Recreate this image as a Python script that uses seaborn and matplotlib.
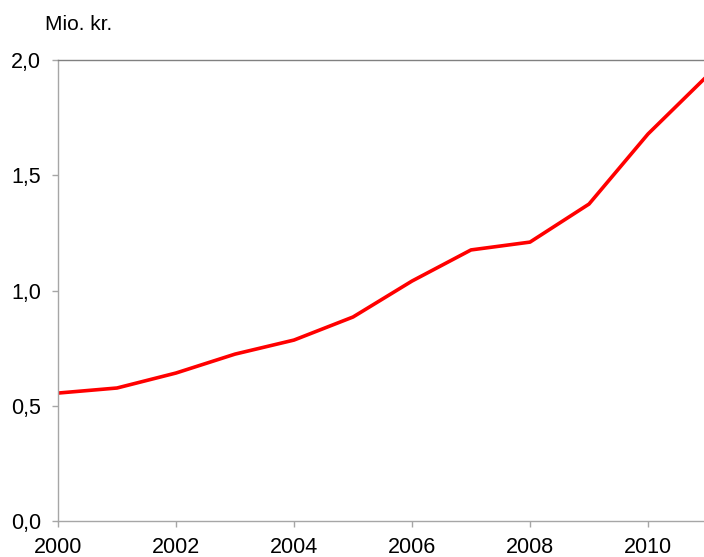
import matplotlib
matplotlib.use("Agg")
import matplotlib.pyplot as plt
import seaborn as sns
import pandas as pd

years = [2000, 2001, 2002, 2003, 2004, 2005, 2006, 2007, 2008, 2009, 2010, 2011]
value = [0.555, 0.577, 0.642, 0.724, 0.785, 0.885, 1.041, 1.176, 1.210, 1.375, 1.679, 1.93]
y_ticks = [0.0, 0.5, 1.0, 1.5, 2.0]
y_labels = ["0,0", "0,5", "1,0", "1,5", "2,0"]
x_ticks = [2000, 2002, 2004, 2006, 2008, 2010]

df = pd.DataFrame({"year": years, "value": value})

sns.set_style("white")
plt.rcParams["font.family"] = ["Liberation Sans", "DejaVu Sans"]

fig = plt.figure(figsize=(7.04, 5.57), dpi=100)
ax = fig.add_axes([58 / 704, 36 / 557, 649 / 704, 461 / 557])

sns.lineplot(data=df, x="year", y="value", color="#ff0000", linewidth=2.6, ax=ax)

ax.set_xlim(2000, 2011)
ax.set_ylim(0, 2.0)
ax.set_xticks(x_ticks)
ax.set_xticklabels([str(x) for x in x_ticks], fontsize=15.5, color="black")
ax.set_yticks(y_ticks)
ax.set_yticklabels(y_labels, fontsize=15.5, color="black")
ax.set_xlabel("")
ax.set_ylabel("")

for s in ["left", "bottom"]:
    ax.spines[s].set_color("#a6a6a6")
    ax.spines[s].set_linewidth(1.0)
ax.spines["top"].set_color("#808080")
ax.spines["top"].set_linewidth(1.0)
ax.spines["right"].set_visible(False)
ax.tick_params(axis="both", length=4.3, width=1.0, color="#a6a6a6", direction="out",
               left=True, bottom=True)
ax.tick_params(axis="y", pad=8)
ax.tick_params(axis="x", pad=7)

fig.text(45 / 704, 1 - 24 / 557, "Mio. kr.", fontsize=15, va="center", ha="left", color="black")

fig.savefig("out.png", dpi=100)
